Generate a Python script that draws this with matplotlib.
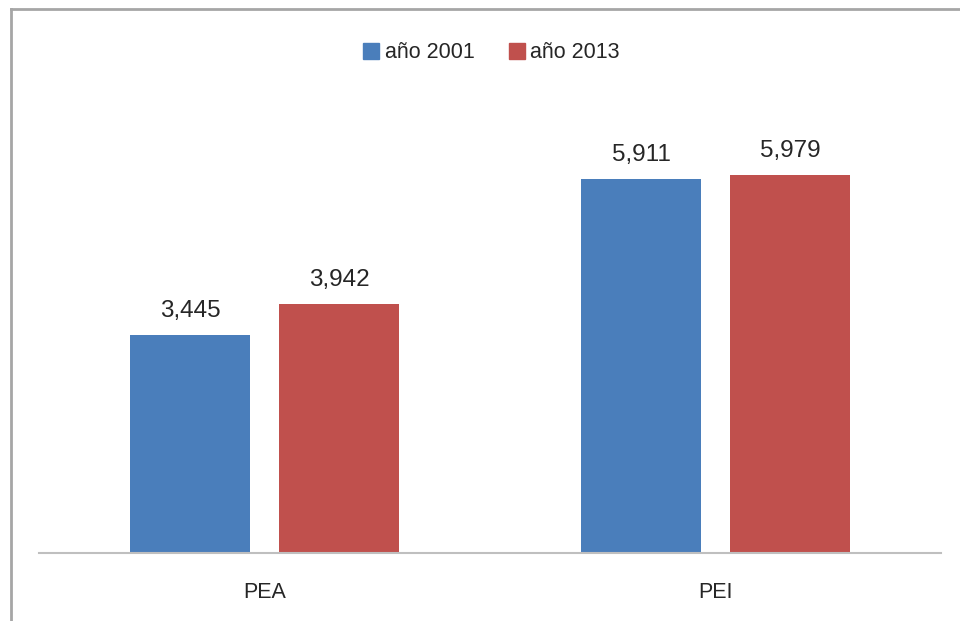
import matplotlib
matplotlib.use("Agg")
import matplotlib.pyplot as plt
import numpy as np
from matplotlib.lines import Line2D
from matplotlib.patches import Patch

plt.rcParams["font.family"] = ["Liberation Sans", "DejaVu Sans"]

# datos
categorias = ["PEA", "PEI"]
series = ["año 2001", "año 2013"]
valores_2001 = [3445, 5911]
valores_2013 = [3942, 5979]

COL_2001 = "#4a7ebb"
COL_2013 = "#c0504d"
TXT = "#262626"

fig = plt.figure(figsize=(9.6, 6.21), dpi=100)
ax = fig.add_axes([39 / 960, 68 / 621, 902 / 960, 443 / 621])

x = np.arange(len(categorias))
ancho = 0.267
desp = 0.165

b1 = ax.bar(x - desp, valores_2001, ancho, color=COL_2001, label=series[0])
b2 = ax.bar(x + desp, valores_2013, ancho, color=COL_2013, label=series[1])

for barras in (b1, b2):
    ax.bar_label(barras, labels=[f"{v:,.0f}" for v in barras.datavalues],
                 padding=9, fontsize=17.5, color=TXT)

ax.set_xlim(-0.5, 1.5)
ax.set_ylim(0, 7000)
ax.set_yticks([])
ax.set_xticks(x)
ax.set_xticklabels(categorias, fontsize=15.5, color=TXT)
ax.tick_params(axis="x", length=0, pad=21)

for lado in ("top", "right", "left"):
    ax.spines[lado].set_visible(False)
ax.spines["bottom"].set_color("#bfbfbf")
ax.spines["bottom"].set_linewidth(1.5)

handles = [Patch(color=COL_2001, label=series[0]),
           Patch(color=COL_2013, label=series[1])]
fig.legend(handles=handles, loc="center", bbox_to_anchor=(491.5 / 960, 1 - 53 / 621),
           ncol=2, frameon=False, fontsize=15.5, handlelength=0.75,
           handleheight=0.75, handletextpad=0.25, columnspacing=1.6,
           labelcolor=TXT)

# marco exterior (solo se ven los lados superior e izquierdo)
fig.add_artist(Line2D([10.5 / 960, 1], [1 - 9 / 621, 1 - 9 / 621],
                      transform=fig.transFigure, color="#a6a6a6", lw=2))
fig.add_artist(Line2D([10.5 / 960, 10.5 / 960], [0, 1 - 9 / 621],
                      transform=fig.transFigure, color="#a6a6a6", lw=2))

fig.savefig("out.png", dpi=100)
